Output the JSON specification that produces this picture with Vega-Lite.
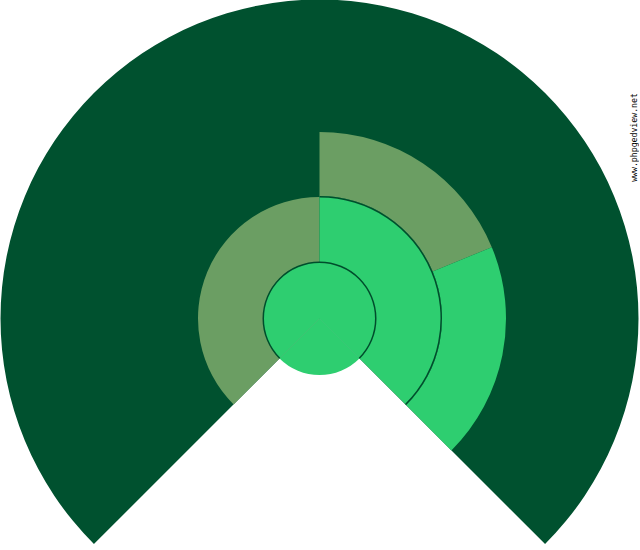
{
  "$schema": "https://vega.github.io/schema/vega-lite/v6.json",
  "width": 639,
  "height": 637,
  "padding": 0,
  "autosize": {"type": "none"},
  "background": "#ffffff",
  "title": {
    "text": "www.phpgedview.net",
    "orient": "right",
    "anchor": "middle",
    "frame": "group",
    "angle": 270,
    "offset": -16,
    "dx": 181,
    "font": "DejaVu Sans Mono",
    "fontSize": 8.2,
    "fontWeight": "normal",
    "color": "#000000"
  },
  "data": {
    "values": [
      {"box": "background", "start": -135, "end": 135, "inner": 0, "outer": 319, "kind": "empty"},
      {"box": "father", "start": -135, "end": 0, "inner": 0, "outer": 121.5, "kind": "male"},
      {"box": "mother", "start": 0, "end": 135, "inner": 0, "outer": 122.5, "kind": "female"},
      {"box": "mother's father", "start": 0, "end": 67.5, "inner": 122.5, "outer": 186.5, "kind": "male"},
      {"box": "mother's mother", "start": 67.5, "end": 135, "inner": 122.5, "outer": 186.5, "kind": "female"},
      {"box": "mother outline", "start": 0, "end": 135, "inner": 121, "outer": 122.5, "kind": "line"},
      {"box": "person", "start": -135, "end": 135, "inner": 0, "outer": 56.5, "kind": "female"},
      {"box": "person", "start": 135, "end": 225, "inner": 0, "outer": 56.5, "kind": "female"},
      {"box": "person outline", "start": -135, "end": 135, "inner": 55.5, "outer": 57, "kind": "line"}
    ]
  },
  "mark": {"type": "arc", "stroke": null},
  "encoding": {
    "theta": {
      "field": "start",
      "type": "quantitative",
      "stack": null,
      "scale": {"type": "linear", "domain": [-135, 135], "range": [-2.35619, 2.35619], "zero": false}
    },
    "theta2": {"field": "end"},
    "radius": {
      "field": "outer",
      "type": "quantitative",
      "scale": {"type": "linear", "domain": [0, 319], "range": [0, 319], "zero": true}
    },
    "radius2": {"field": "inner"},
    "color": {
      "field": "kind",
      "type": "nominal",
      "scale": {
        "domain": ["empty", "male", "female", "line"],
        "range": ["#00512f", "#6b9e63", "#2ece70", "#004d2c"]
      },
      "legend": null
    },
    "tooltip": [{"field": "box", "type": "nominal"}]
  }
}
